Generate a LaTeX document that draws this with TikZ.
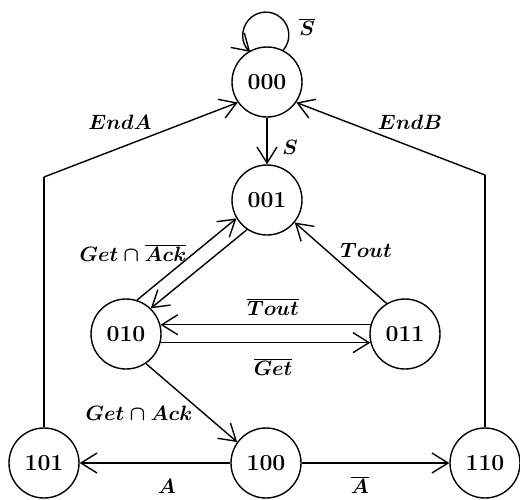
\documentclass[tikz,border=0pt]{standalone}
\usetikzlibrary{arrows.meta}
\begin{document}
\begin{tikzpicture}[x=1pt,y=-1pt,
  state/.style={draw,circle,line width=1.4pt,minimum size=70pt,inner sep=0pt,font=\fontsize{23}{27}\selectfont\bfseries},
  arr/.style={line width=1.4pt,-{Straight Barb[length=16pt,width=20pt,line width=1.4pt]}},
  ln/.style={line width=1.4pt},
  lab/.style={font=\fontsize{22}{26}\selectfont\boldmath,inner sep=0pt}]
\useasboundingbox (0,0) rectangle (520,499);
\node[state] (n000) at (267,82) {000};
\node[state] (n001) at (267,200) {001};
\node[state] (n010) at (126,334) {010};
\node[state] (n011) at (405,334) {011};
\node[state] (n101) at (44,463) {101};
\node[state] (n100) at (266,463) {100};
\node[state] (n110) at (485,463) {110};
\coordinate (cA) at (44,177);
\coordinate (cB) at (485,175);
% self loop
\draw[arr] (n000.63) arc[start angle=41, end angle=-227, radius=23];
\node[lab] (lSb) at (307,27) {$\overline{S}$};
% S
\draw[arr] (n000) -- (n001);
\node[lab] (lS) at (290,147) {$S$};
% EndA / EndB
\draw[ln] (n101) -- (cA);
\draw[arr] (cA) -- (n000.215);
\node[lab] (lEA) at (120,122) {$EndA$};
\draw[ln] (n110) -- (cB);
\draw[arr] (cB) -- (n000.325);
\node[lab] (lEB) at (410,122) {$EndB$};
% double edge 001-010
\draw[arr] (n010.72) -- (n001.211);
\draw[arr] (n001.236) -- (n010.46);
\node[lab] (lGnA) at (133,253) {$Get\cap\overline{Ack}$};
% 011 -> 001
\draw[arr] (n011.121) -- (n001.321);
\node[lab] (lT) at (366,250) {$Tout$};
% 010 <-> 011
\draw[arr] (n011.165) -- (n010.15);
\draw[arr] (n010.-14) -- (n011.194);
\node[lab] (lTb) at (273,307) {$\overline{Tout}$};
\node[lab] (lGb) at (273,367) {$\overline{Get}$};
% 010 -> 100
\draw[arr] (n010.304) -- (n100.144);
\node[lab] (lGA) at (139,413) {$Get\cap Ack$};
% 100 -> 101, 100 -> 110
\draw[arr] (n100) -- (n101);
\node[lab] (lA) at (167,486) {$A$};
\draw[arr] (n100) -- (n110);
\node[lab] (lAb) at (360,485) {$\overline{A}$};
\end{tikzpicture}
\end{document}
